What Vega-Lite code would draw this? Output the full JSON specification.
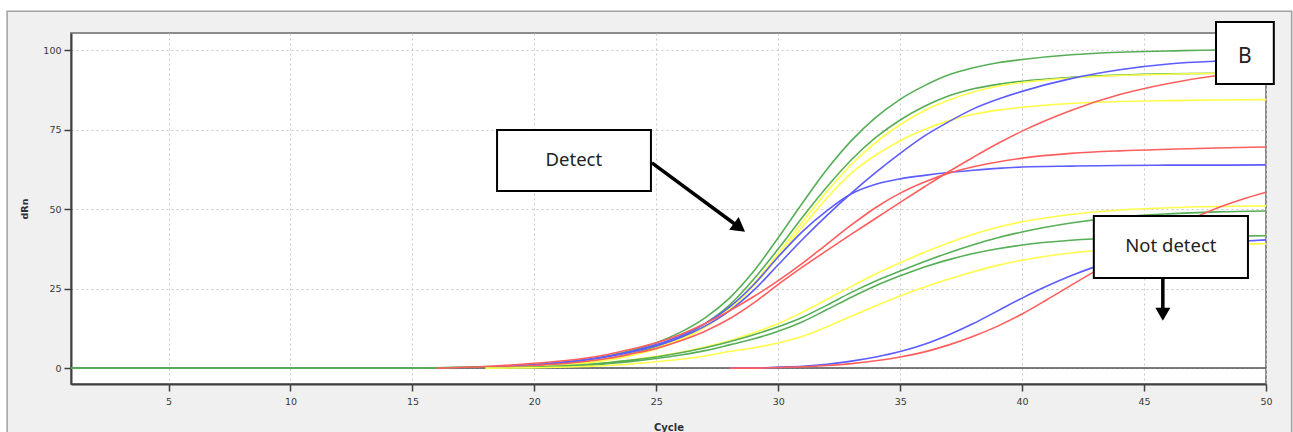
{
  "$schema": "https://vega.github.io/schema/vega-lite/v6.json",
  "width": 1195,
  "height": 351,
  "autosize": {"type": "none"},
  "padding": {"left": 71, "top": 33, "right": 27, "bottom": 48},
  "background": "#f0f0f0",
  "config": {
    "view": {"fill": "white", "stroke": "#8c8c8c", "strokeWidth": 2},
    "axis": {
      "labelFont": "DejaVu Sans", "labelFontSize": 9.5, "labelColor": "#383838", "labelFlush": false,
      "titleFont": "DejaVu Sans", "titleFontSize": 10, "titleFontWeight": "bold", "titleColor": "#303030",
      "domainColor": "#404040", "domainWidth": 2, "tickColor": "#404040", "tickWidth": 1.5,
      "gridColor": "#c8c8c8", "gridDash": [2, 3], "gridWidth": 1
    }
  },
  "datasets": {
    "curves": [
      {"sample":"G1","dye":"green","cycle":1,"dRn":0},{"sample":"G1","dye":"green","cycle":15,"dRn":0},{"sample":"G1","dye":"green","cycle":18,"dRn":0.5},{"sample":"G1","dye":"green","cycle":20,"dRn":1},{"sample":"G1","dye":"green","cycle":22,"dRn":2.5},{"sample":"G1","dye":"green","cycle":23,"dRn":3.8},{"sample":"G1","dye":"green","cycle":24,"dRn":5.6},{"sample":"G1","dye":"green","cycle":25,"dRn":8},{"sample":"G1","dye":"green","cycle":26,"dRn":11.3},{"sample":"G1","dye":"green","cycle":27,"dRn":15.8},{"sample":"G1","dye":"green","cycle":28,"dRn":22},{"sample":"G1","dye":"green","cycle":29,"dRn":30.5},{"sample":"G1","dye":"green","cycle":30,"dRn":41},{"sample":"G1","dye":"green","cycle":31,"dRn":52},{"sample":"G1","dye":"green","cycle":32,"dRn":62.5},{"sample":"G1","dye":"green","cycle":33,"dRn":71.5},{"sample":"G1","dye":"green","cycle":34,"dRn":78.8},{"sample":"G1","dye":"green","cycle":35,"dRn":84.5},{"sample":"G1","dye":"green","cycle":36,"dRn":88.8},{"sample":"G1","dye":"green","cycle":37,"dRn":92.2},{"sample":"G1","dye":"green","cycle":38,"dRn":94.4},{"sample":"G1","dye":"green","cycle":39,"dRn":96},{"sample":"G1","dye":"green","cycle":40,"dRn":97},{"sample":"G1","dye":"green","cycle":42,"dRn":98.5},{"sample":"G1","dye":"green","cycle":44,"dRn":99.3},{"sample":"G1","dye":"green","cycle":46,"dRn":99.7},{"sample":"G1","dye":"green","cycle":48,"dRn":100},{"sample":"G1","dye":"green","cycle":50,"dRn":100},

      {"sample":"G2","dye":"green","cycle":18,"dRn":0},{"sample":"G2","dye":"green","cycle":20,"dRn":0.8},{"sample":"G2","dye":"green","cycle":22,"dRn":2},{"sample":"G2","dye":"green","cycle":23,"dRn":3},{"sample":"G2","dye":"green","cycle":24,"dRn":4.6},{"sample":"G2","dye":"green","cycle":25,"dRn":6.8},{"sample":"G2","dye":"green","cycle":26,"dRn":9.8},{"sample":"G2","dye":"green","cycle":27,"dRn":14},{"sample":"G2","dye":"green","cycle":28,"dRn":19.8},{"sample":"G2","dye":"green","cycle":29,"dRn":28},{"sample":"G2","dye":"green","cycle":30,"dRn":37.5},{"sample":"G2","dye":"green","cycle":31,"dRn":47.5},{"sample":"G2","dye":"green","cycle":32,"dRn":57},{"sample":"G2","dye":"green","cycle":33,"dRn":65.5},{"sample":"G2","dye":"green","cycle":34,"dRn":72.5},{"sample":"G2","dye":"green","cycle":35,"dRn":78},{"sample":"G2","dye":"green","cycle":36,"dRn":82.3},{"sample":"G2","dye":"green","cycle":37,"dRn":85.6},{"sample":"G2","dye":"green","cycle":38,"dRn":87.8},{"sample":"G2","dye":"green","cycle":39,"dRn":89.2},{"sample":"G2","dye":"green","cycle":40,"dRn":90.2},{"sample":"G2","dye":"green","cycle":42,"dRn":91.4},{"sample":"G2","dye":"green","cycle":44,"dRn":92.1},{"sample":"G2","dye":"green","cycle":46,"dRn":92.5},{"sample":"G2","dye":"green","cycle":48,"dRn":92.7},{"sample":"G2","dye":"green","cycle":50,"dRn":92.8},

      {"sample":"Y1","dye":"yellow","cycle":18,"dRn":0},{"sample":"Y1","dye":"yellow","cycle":20,"dRn":0.5},{"sample":"Y1","dye":"yellow","cycle":22,"dRn":1.6},{"sample":"Y1","dye":"yellow","cycle":23,"dRn":2.7},{"sample":"Y1","dye":"yellow","cycle":24,"dRn":4.2},{"sample":"Y1","dye":"yellow","cycle":25,"dRn":6.3},{"sample":"Y1","dye":"yellow","cycle":26,"dRn":9.2},{"sample":"Y1","dye":"yellow","cycle":27,"dRn":13.2},{"sample":"Y1","dye":"yellow","cycle":28,"dRn":18.8},{"sample":"Y1","dye":"yellow","cycle":29,"dRn":26.6},{"sample":"Y1","dye":"yellow","cycle":30,"dRn":36},{"sample":"Y1","dye":"yellow","cycle":31,"dRn":46},{"sample":"Y1","dye":"yellow","cycle":32,"dRn":55.5},{"sample":"Y1","dye":"yellow","cycle":33,"dRn":64},{"sample":"Y1","dye":"yellow","cycle":34,"dRn":71},{"sample":"Y1","dye":"yellow","cycle":35,"dRn":76.5},{"sample":"Y1","dye":"yellow","cycle":36,"dRn":81},{"sample":"Y1","dye":"yellow","cycle":37,"dRn":84.3},{"sample":"Y1","dye":"yellow","cycle":38,"dRn":86.8},{"sample":"Y1","dye":"yellow","cycle":39,"dRn":88.6},{"sample":"Y1","dye":"yellow","cycle":40,"dRn":89.8},{"sample":"Y1","dye":"yellow","cycle":42,"dRn":91.2},{"sample":"Y1","dye":"yellow","cycle":44,"dRn":92},{"sample":"Y1","dye":"yellow","cycle":46,"dRn":92.4},{"sample":"Y1","dye":"yellow","cycle":48,"dRn":92.7},{"sample":"Y1","dye":"yellow","cycle":50,"dRn":92.8},

      {"sample":"Y2","dye":"yellow","cycle":18,"dRn":0},{"sample":"Y2","dye":"yellow","cycle":20,"dRn":0.5},{"sample":"Y2","dye":"yellow","cycle":22,"dRn":1.5},{"sample":"Y2","dye":"yellow","cycle":23,"dRn":2.5},{"sample":"Y2","dye":"yellow","cycle":24,"dRn":4},{"sample":"Y2","dye":"yellow","cycle":25,"dRn":6},{"sample":"Y2","dye":"yellow","cycle":26,"dRn":8.8},{"sample":"Y2","dye":"yellow","cycle":27,"dRn":12.8},{"sample":"Y2","dye":"yellow","cycle":28,"dRn":18.3},{"sample":"Y2","dye":"yellow","cycle":29,"dRn":26},{"sample":"Y2","dye":"yellow","cycle":30,"dRn":35},{"sample":"Y2","dye":"yellow","cycle":31,"dRn":44.5},{"sample":"Y2","dye":"yellow","cycle":32,"dRn":53.5},{"sample":"Y2","dye":"yellow","cycle":33,"dRn":61.3},{"sample":"Y2","dye":"yellow","cycle":34,"dRn":67},{"sample":"Y2","dye":"yellow","cycle":35,"dRn":71.5},{"sample":"Y2","dye":"yellow","cycle":36,"dRn":75},{"sample":"Y2","dye":"yellow","cycle":37,"dRn":77.8},{"sample":"Y2","dye":"yellow","cycle":38,"dRn":79.8},{"sample":"Y2","dye":"yellow","cycle":39,"dRn":81.1},{"sample":"Y2","dye":"yellow","cycle":40,"dRn":82},{"sample":"Y2","dye":"yellow","cycle":42,"dRn":83.2},{"sample":"Y2","dye":"yellow","cycle":44,"dRn":83.8},{"sample":"Y2","dye":"yellow","cycle":46,"dRn":84.1},{"sample":"Y2","dye":"yellow","cycle":48,"dRn":84.3},{"sample":"Y2","dye":"yellow","cycle":50,"dRn":84.4},

      {"sample":"B1","dye":"blue","cycle":18,"dRn":0},{"sample":"B1","dye":"blue","cycle":20,"dRn":1},{"sample":"B1","dye":"blue","cycle":22,"dRn":2.5},{"sample":"B1","dye":"blue","cycle":23,"dRn":3.6},{"sample":"B1","dye":"blue","cycle":24,"dRn":5.1},{"sample":"B1","dye":"blue","cycle":25,"dRn":7},{"sample":"B1","dye":"blue","cycle":26,"dRn":9.6},{"sample":"B1","dye":"blue","cycle":27,"dRn":13.2},{"sample":"B1","dye":"blue","cycle":28,"dRn":18},{"sample":"B1","dye":"blue","cycle":29,"dRn":24.5},{"sample":"B1","dye":"blue","cycle":30,"dRn":32.5},{"sample":"B1","dye":"blue","cycle":31,"dRn":40.5},{"sample":"B1","dye":"blue","cycle":32,"dRn":48},{"sample":"B1","dye":"blue","cycle":33,"dRn":55},{"sample":"B1","dye":"blue","cycle":34,"dRn":61.5},{"sample":"B1","dye":"blue","cycle":35,"dRn":67.5},{"sample":"B1","dye":"blue","cycle":36,"dRn":73},{"sample":"B1","dye":"blue","cycle":37,"dRn":77.5},{"sample":"B1","dye":"blue","cycle":38,"dRn":81.5},{"sample":"B1","dye":"blue","cycle":39,"dRn":84.5},{"sample":"B1","dye":"blue","cycle":40,"dRn":87},{"sample":"B1","dye":"blue","cycle":42,"dRn":91},{"sample":"B1","dye":"blue","cycle":44,"dRn":93.8},{"sample":"B1","dye":"blue","cycle":46,"dRn":95.6},{"sample":"B1","dye":"blue","cycle":48,"dRn":96.5},{"sample":"B1","dye":"blue","cycle":50,"dRn":97},

      {"sample":"B2","dye":"blue","cycle":18,"dRn":0},{"sample":"B2","dye":"blue","cycle":20,"dRn":1},{"sample":"B2","dye":"blue","cycle":22,"dRn":2.5},{"sample":"B2","dye":"blue","cycle":23,"dRn":3.7},{"sample":"B2","dye":"blue","cycle":24,"dRn":5.3},{"sample":"B2","dye":"blue","cycle":25,"dRn":7.4},{"sample":"B2","dye":"blue","cycle":26,"dRn":10.2},{"sample":"B2","dye":"blue","cycle":27,"dRn":14},{"sample":"B2","dye":"blue","cycle":28,"dRn":19.2},{"sample":"B2","dye":"blue","cycle":29,"dRn":26.3},{"sample":"B2","dye":"blue","cycle":30,"dRn":35},{"sample":"B2","dye":"blue","cycle":31,"dRn":43},{"sample":"B2","dye":"blue","cycle":32,"dRn":49.5},{"sample":"B2","dye":"blue","cycle":33,"dRn":54.8},{"sample":"B2","dye":"blue","cycle":34,"dRn":57.8},{"sample":"B2","dye":"blue","cycle":35,"dRn":59.5},{"sample":"B2","dye":"blue","cycle":36,"dRn":60.6},{"sample":"B2","dye":"blue","cycle":37,"dRn":61.5},{"sample":"B2","dye":"blue","cycle":38,"dRn":62.2},{"sample":"B2","dye":"blue","cycle":39,"dRn":62.8},{"sample":"B2","dye":"blue","cycle":40,"dRn":63.2},{"sample":"B2","dye":"blue","cycle":42,"dRn":63.5},{"sample":"B2","dye":"blue","cycle":44,"dRn":63.7},{"sample":"B2","dye":"blue","cycle":46,"dRn":63.8},{"sample":"B2","dye":"blue","cycle":48,"dRn":63.8},{"sample":"B2","dye":"blue","cycle":50,"dRn":63.9},

      {"sample":"R2","dye":"red","cycle":16,"dRn":0},{"sample":"R2","dye":"red","cycle":18,"dRn":0.5},{"sample":"R2","dye":"red","cycle":20,"dRn":1.5},{"sample":"R2","dye":"red","cycle":22,"dRn":3},{"sample":"R2","dye":"red","cycle":23,"dRn":4.3},{"sample":"R2","dye":"red","cycle":24,"dRn":6},{"sample":"R2","dye":"red","cycle":25,"dRn":8},{"sample":"R2","dye":"red","cycle":26,"dRn":10.6},{"sample":"R2","dye":"red","cycle":27,"dRn":14},{"sample":"R2","dye":"red","cycle":28,"dRn":18},{"sample":"R2","dye":"red","cycle":29,"dRn":22.5},{"sample":"R2","dye":"red","cycle":30,"dRn":27.5},{"sample":"R2","dye":"red","cycle":31,"dRn":33},{"sample":"R2","dye":"red","cycle":32,"dRn":39},{"sample":"R2","dye":"red","cycle":33,"dRn":45},{"sample":"R2","dye":"red","cycle":34,"dRn":50.5},{"sample":"R2","dye":"red","cycle":35,"dRn":55},{"sample":"R2","dye":"red","cycle":36,"dRn":58.5},{"sample":"R2","dye":"red","cycle":37,"dRn":61.3},{"sample":"R2","dye":"red","cycle":38,"dRn":63.3},{"sample":"R2","dye":"red","cycle":39,"dRn":64.8},{"sample":"R2","dye":"red","cycle":40,"dRn":66},{"sample":"R2","dye":"red","cycle":42,"dRn":67.5},{"sample":"R2","dye":"red","cycle":44,"dRn":68.3},{"sample":"R2","dye":"red","cycle":46,"dRn":68.8},{"sample":"R2","dye":"red","cycle":48,"dRn":69.2},{"sample":"R2","dye":"red","cycle":50,"dRn":69.5},

      {"sample":"R1","dye":"red","cycle":18,"dRn":0},{"sample":"R1","dye":"red","cycle":20,"dRn":0.8},{"sample":"R1","dye":"red","cycle":22,"dRn":2},{"sample":"R1","dye":"red","cycle":23,"dRn":3},{"sample":"R1","dye":"red","cycle":24,"dRn":4.5},{"sample":"R1","dye":"red","cycle":25,"dRn":6.2},{"sample":"R1","dye":"red","cycle":26,"dRn":8.6},{"sample":"R1","dye":"red","cycle":27,"dRn":11.6},{"sample":"R1","dye":"red","cycle":28,"dRn":15.5},{"sample":"R1","dye":"red","cycle":29,"dRn":20.5},{"sample":"R1","dye":"red","cycle":30,"dRn":26.3},{"sample":"R1","dye":"red","cycle":31,"dRn":31.8},{"sample":"R1","dye":"red","cycle":32,"dRn":37},{"sample":"R1","dye":"red","cycle":33,"dRn":42.1},{"sample":"R1","dye":"red","cycle":34,"dRn":47.1},{"sample":"R1","dye":"red","cycle":35,"dRn":52.1},{"sample":"R1","dye":"red","cycle":36,"dRn":57},{"sample":"R1","dye":"red","cycle":37,"dRn":61.8},{"sample":"R1","dye":"red","cycle":38,"dRn":66.3},{"sample":"R1","dye":"red","cycle":39,"dRn":70.6},{"sample":"R1","dye":"red","cycle":40,"dRn":74.5},{"sample":"R1","dye":"red","cycle":42,"dRn":81},{"sample":"R1","dye":"red","cycle":44,"dRn":86},{"sample":"R1","dye":"red","cycle":46,"dRn":89.5},{"sample":"R1","dye":"red","cycle":48,"dRn":92},{"sample":"R1","dye":"red","cycle":50,"dRn":93.5},

      {"sample":"Y3","dye":"yellow","cycle":18,"dRn":0},{"sample":"Y3","dye":"yellow","cycle":20,"dRn":0.3},{"sample":"Y3","dye":"yellow","cycle":22,"dRn":1},{"sample":"Y3","dye":"yellow","cycle":23,"dRn":1.7},{"sample":"Y3","dye":"yellow","cycle":24,"dRn":2.6},{"sample":"Y3","dye":"yellow","cycle":25,"dRn":3.7},{"sample":"Y3","dye":"yellow","cycle":26,"dRn":5},{"sample":"Y3","dye":"yellow","cycle":27,"dRn":6.6},{"sample":"Y3","dye":"yellow","cycle":28,"dRn":8.6},{"sample":"Y3","dye":"yellow","cycle":29,"dRn":11.1},{"sample":"Y3","dye":"yellow","cycle":30,"dRn":14},{"sample":"Y3","dye":"yellow","cycle":31,"dRn":17.6},{"sample":"Y3","dye":"yellow","cycle":32,"dRn":21.6},{"sample":"Y3","dye":"yellow","cycle":33,"dRn":25.7},{"sample":"Y3","dye":"yellow","cycle":34,"dRn":29.6},{"sample":"Y3","dye":"yellow","cycle":35,"dRn":33.1},{"sample":"Y3","dye":"yellow","cycle":36,"dRn":36.4},{"sample":"Y3","dye":"yellow","cycle":37,"dRn":39.4},{"sample":"Y3","dye":"yellow","cycle":38,"dRn":42.1},{"sample":"Y3","dye":"yellow","cycle":39,"dRn":44.3},{"sample":"Y3","dye":"yellow","cycle":40,"dRn":46},{"sample":"Y3","dye":"yellow","cycle":42,"dRn":48.3},{"sample":"Y3","dye":"yellow","cycle":44,"dRn":49.7},{"sample":"Y3","dye":"yellow","cycle":46,"dRn":50.4},{"sample":"Y3","dye":"yellow","cycle":48,"dRn":50.8},{"sample":"Y3","dye":"yellow","cycle":50,"dRn":51},

      {"sample":"G3","dye":"green","cycle":18,"dRn":0},{"sample":"G3","dye":"green","cycle":20,"dRn":0.3},{"sample":"G3","dye":"green","cycle":22,"dRn":1},{"sample":"G3","dye":"green","cycle":23,"dRn":1.7},{"sample":"G3","dye":"green","cycle":24,"dRn":2.5},{"sample":"G3","dye":"green","cycle":25,"dRn":3.5},{"sample":"G3","dye":"green","cycle":26,"dRn":4.8},{"sample":"G3","dye":"green","cycle":27,"dRn":6.4},{"sample":"G3","dye":"green","cycle":28,"dRn":8.3},{"sample":"G3","dye":"green","cycle":29,"dRn":10.5},{"sample":"G3","dye":"green","cycle":30,"dRn":13},{"sample":"G3","dye":"green","cycle":31,"dRn":16},{"sample":"G3","dye":"green","cycle":32,"dRn":19.8},{"sample":"G3","dye":"green","cycle":33,"dRn":23.8},{"sample":"G3","dye":"green","cycle":34,"dRn":27.4},{"sample":"G3","dye":"green","cycle":35,"dRn":30.5},{"sample":"G3","dye":"green","cycle":36,"dRn":33.5},{"sample":"G3","dye":"green","cycle":37,"dRn":36.3},{"sample":"G3","dye":"green","cycle":38,"dRn":38.8},{"sample":"G3","dye":"green","cycle":39,"dRn":41},{"sample":"G3","dye":"green","cycle":40,"dRn":42.8},{"sample":"G3","dye":"green","cycle":42,"dRn":45.6},{"sample":"G3","dye":"green","cycle":44,"dRn":47.5},{"sample":"G3","dye":"green","cycle":46,"dRn":48.5},{"sample":"G3","dye":"green","cycle":48,"dRn":49.1},{"sample":"G3","dye":"green","cycle":50,"dRn":49.4},

      {"sample":"G4","dye":"green","cycle":18,"dRn":0},{"sample":"G4","dye":"green","cycle":20,"dRn":0.2},{"sample":"G4","dye":"green","cycle":22,"dRn":0.8},{"sample":"G4","dye":"green","cycle":23,"dRn":1.4},{"sample":"G4","dye":"green","cycle":24,"dRn":2.1},{"sample":"G4","dye":"green","cycle":25,"dRn":3},{"sample":"G4","dye":"green","cycle":26,"dRn":4.1},{"sample":"G4","dye":"green","cycle":27,"dRn":5.5},{"sample":"G4","dye":"green","cycle":28,"dRn":7.3},{"sample":"G4","dye":"green","cycle":29,"dRn":9.2},{"sample":"G4","dye":"green","cycle":30,"dRn":11.6},{"sample":"G4","dye":"green","cycle":31,"dRn":14.6},{"sample":"G4","dye":"green","cycle":32,"dRn":18.4},{"sample":"G4","dye":"green","cycle":33,"dRn":22.3},{"sample":"G4","dye":"green","cycle":34,"dRn":25.9},{"sample":"G4","dye":"green","cycle":35,"dRn":29},{"sample":"G4","dye":"green","cycle":36,"dRn":31.8},{"sample":"G4","dye":"green","cycle":37,"dRn":34.1},{"sample":"G4","dye":"green","cycle":38,"dRn":36},{"sample":"G4","dye":"green","cycle":39,"dRn":37.5},{"sample":"G4","dye":"green","cycle":40,"dRn":38.7},{"sample":"G4","dye":"green","cycle":42,"dRn":40.2},{"sample":"G4","dye":"green","cycle":44,"dRn":41},{"sample":"G4","dye":"green","cycle":46,"dRn":41.3},{"sample":"G4","dye":"green","cycle":48,"dRn":41.5},{"sample":"G4","dye":"green","cycle":50,"dRn":41.6},

      {"sample":"Y4","dye":"yellow","cycle":18,"dRn":0},{"sample":"Y4","dye":"yellow","cycle":20,"dRn":0.1},{"sample":"Y4","dye":"yellow","cycle":22,"dRn":0.5},{"sample":"Y4","dye":"yellow","cycle":23,"dRn":0.8},{"sample":"Y4","dye":"yellow","cycle":24,"dRn":1.3},{"sample":"Y4","dye":"yellow","cycle":25,"dRn":2},{"sample":"Y4","dye":"yellow","cycle":26,"dRn":2.8},{"sample":"Y4","dye":"yellow","cycle":27,"dRn":3.8},{"sample":"Y4","dye":"yellow","cycle":28,"dRn":5.2},{"sample":"Y4","dye":"yellow","cycle":29,"dRn":6.4},{"sample":"Y4","dye":"yellow","cycle":30,"dRn":7.9},{"sample":"Y4","dye":"yellow","cycle":31,"dRn":10},{"sample":"Y4","dye":"yellow","cycle":32,"dRn":13},{"sample":"Y4","dye":"yellow","cycle":33,"dRn":16.3},{"sample":"Y4","dye":"yellow","cycle":34,"dRn":19.6},{"sample":"Y4","dye":"yellow","cycle":35,"dRn":22.7},{"sample":"Y4","dye":"yellow","cycle":36,"dRn":25.5},{"sample":"Y4","dye":"yellow","cycle":37,"dRn":28},{"sample":"Y4","dye":"yellow","cycle":38,"dRn":30.3},{"sample":"Y4","dye":"yellow","cycle":39,"dRn":32.3},{"sample":"Y4","dye":"yellow","cycle":40,"dRn":33.9},{"sample":"Y4","dye":"yellow","cycle":42,"dRn":36.2},{"sample":"Y4","dye":"yellow","cycle":44,"dRn":37.5},{"sample":"Y4","dye":"yellow","cycle":46,"dRn":38.3},{"sample":"Y4","dye":"yellow","cycle":48,"dRn":38.8},{"sample":"Y4","dye":"yellow","cycle":50,"dRn":39.1},

      {"sample":"B3","dye":"blue","cycle":28,"dRn":0},{"sample":"B3","dye":"blue","cycle":29,"dRn":0},{"sample":"B3","dye":"blue","cycle":30,"dRn":0.3},{"sample":"B3","dye":"blue","cycle":31,"dRn":0.6},{"sample":"B3","dye":"blue","cycle":32,"dRn":1.2},{"sample":"B3","dye":"blue","cycle":33,"dRn":2.2},{"sample":"B3","dye":"blue","cycle":34,"dRn":3.5},{"sample":"B3","dye":"blue","cycle":35,"dRn":5.2},{"sample":"B3","dye":"blue","cycle":36,"dRn":7.5},{"sample":"B3","dye":"blue","cycle":37,"dRn":10.5},{"sample":"B3","dye":"blue","cycle":38,"dRn":14},{"sample":"B3","dye":"blue","cycle":39,"dRn":18},{"sample":"B3","dye":"blue","cycle":40,"dRn":22},{"sample":"B3","dye":"blue","cycle":41,"dRn":25.7},{"sample":"B3","dye":"blue","cycle":42,"dRn":29},{"sample":"B3","dye":"blue","cycle":43,"dRn":31.9},{"sample":"B3","dye":"blue","cycle":44,"dRn":34.3},{"sample":"B3","dye":"blue","cycle":45,"dRn":36.2},{"sample":"B3","dye":"blue","cycle":46,"dRn":37.6},{"sample":"B3","dye":"blue","cycle":47,"dRn":38.7},{"sample":"B3","dye":"blue","cycle":48,"dRn":39.4},{"sample":"B3","dye":"blue","cycle":49,"dRn":39.9},{"sample":"B3","dye":"blue","cycle":50,"dRn":40.3},

      {"sample":"R3","dye":"red","cycle":28,"dRn":0},{"sample":"R3","dye":"red","cycle":29,"dRn":0},{"sample":"R3","dye":"red","cycle":30,"dRn":0.2},{"sample":"R3","dye":"red","cycle":31,"dRn":0.4},{"sample":"R3","dye":"red","cycle":32,"dRn":0.8},{"sample":"R3","dye":"red","cycle":33,"dRn":1.4},{"sample":"R3","dye":"red","cycle":34,"dRn":2.3},{"sample":"R3","dye":"red","cycle":35,"dRn":3.5},{"sample":"R3","dye":"red","cycle":36,"dRn":5.1},{"sample":"R3","dye":"red","cycle":37,"dRn":7.3},{"sample":"R3","dye":"red","cycle":38,"dRn":10},{"sample":"R3","dye":"red","cycle":39,"dRn":13.2},{"sample":"R3","dye":"red","cycle":40,"dRn":17},{"sample":"R3","dye":"red","cycle":41,"dRn":21.4},{"sample":"R3","dye":"red","cycle":42,"dRn":26},{"sample":"R3","dye":"red","cycle":43,"dRn":30.5},{"sample":"R3","dye":"red","cycle":44,"dRn":35},{"sample":"R3","dye":"red","cycle":45,"dRn":39.2},{"sample":"R3","dye":"red","cycle":46,"dRn":43.2},{"sample":"R3","dye":"red","cycle":47,"dRn":47},{"sample":"R3","dye":"red","cycle":48,"dRn":50.3},{"sample":"R3","dye":"red","cycle":49,"dRn":53},{"sample":"R3","dye":"red","cycle":50,"dRn":55.3}
    ],
    "boxes": [
      {"label": "Detect", "cycle": 18.47, "cycle2": 24.78, "dRn": 74.84, "dRn2": 55.66},
      {"label": "Not detect", "cycle": 42.94, "cycle2": 49.26, "dRn": 47.8, "dRn2": 28.3},
      {"label": "B", "cycle": 47.95, "cycle2": 50.32, "dRn": 108.8, "dRn2": 89.3}
    ],
    "labels": [
      {"label": "Detect", "cycle": 21.62, "dRn": 65.4},
      {"label": "Not detect", "cycle": 46.1, "dRn": 38.4},
      {"label": "B", "cycle": 49.13, "dRn": 97.8}
    ]
  },
  "encoding": {
    "x": {"field": "cycle", "type": "quantitative", "title": "Cycle",
          "scale": {"domain": [1, 50], "nice": false, "zero": false},
          "axis": {"values": [5, 10, 15, 20, 25, 30, 35, 40, 45, 50], "tickSize": 7, "labelPadding": 5, "grid": true,
                   "titleBaseline": "top", "titleY": 38}},
    "y": {"field": "dRn", "type": "quantitative", "title": "dRn",
          "scale": {"domain": [-5, 105.35], "nice": false, "zero": false},
          "axis": {"values": [0, 25, 50, 75, 100], "tickSize": 7, "labelPadding": 3, "grid": true,
                   "titleX": -44, "titleY": 175.5, "titleBaseline": "alphabetic", "titleFontSize": 9.5}}
  },
  "layer": [
    {
      "data": {"values": [{"cycle": -1.85, "cycle2": 51.33, "dRn": 114.0, "dRn2": -40}]},
      "mark": {"type": "rect", "fill": null, "stroke": "white", "strokeWidth": 11, "clip": false},
      "encoding": {"x2": {"field": "cycle2"}, "y2": {"field": "dRn2"}}
    },
    {
      "data": {"values": [{"cycle": -1.62, "cycle2": 51.05, "dRn": 112.2, "dRn2": -40}]},
      "mark": {"type": "rect", "fill": null, "stroke": "#a0a0a0", "strokeWidth": 1.5, "clip": false},
      "encoding": {"x2": {"field": "cycle2"}, "y2": {"field": "dRn2"}}
    },
    {
      "data": {"values": [{"cycle": 1, "cycle2": 50, "dRn": 0}]},
      "mark": {"type": "rule", "color": "#505050", "strokeWidth": 1.5},
      "encoding": {"x2": {"field": "cycle2"}}
    },
    {
      "data": {"name": "curves"},
      "mark": {"type": "line", "strokeWidth": 1.6, "interpolate": "monotone", "clip": true},
      "encoding": {
        "color": {"field": "dye", "type": "nominal", "legend": null,
                  "scale": {"domain": ["green", "yellow", "blue", "red"], "range": ["#56ae56", "#ffff4a", "#5c5cff", "#ff5e5e"]}},
        "detail": {"field": "sample"}
      }
    },
    {
      "data": {"name": "boxes"},
      "mark": {"type": "rect", "fill": "white", "stroke": "black", "strokeWidth": 2, "clip": false},
      "encoding": {"x2": {"field": "cycle2"}, "y2": {"field": "dRn2"}}
    },
    {
      "data": {"name": "labels"},
      "transform": [{"filter": "datum.label != 'B'"}],
      "mark": {"type": "text", "font": "Noto Sans", "fontSize": 18.5, "color": "#222222", "align": "center", "baseline": "middle", "clip": false},
      "encoding": {"text": {"field": "label"}}
    },
    {
      "data": {"name": "labels"},
      "transform": [{"filter": "datum.label == 'B'"}],
      "mark": {"type": "text", "font": "Noto Sans", "fontSize": 21, "color": "#222222", "align": "center", "baseline": "middle", "clip": false},
      "encoding": {"text": {"field": "label"}}
    },
    {
      "data": {"values": [
        {"arrow": "Detect", "cycle": 24.82, "dRn": 64.5, "cycle2": 28.41, "dRn2": 44.2},
        {"arrow": "Not detect", "cycle": 45.77, "dRn": 28.3, "cycle2": 45.77, "dRn2": 17.5}
      ]},
      "mark": {"type": "rule", "color": "black", "strokeWidth": 3.5, "clip": false},
      "encoding": {"x2": {"field": "cycle2"}, "y2": {"field": "dRn2"}}
    },
    {
      "data": {"values": [{"arrow": "Detect", "cycle": 28.41, "dRn": 44.2}]},
      "mark": {"type": "point", "shape": "triangle-right", "angle": 36.6, "size": 256, "filled": true, "color": "black", "opacity": 1, "clip": false}
    },
    {
      "data": {"values": [{"arrow": "Not detect", "cycle": 45.77, "dRn": 16.9}]},
      "mark": {"type": "point", "shape": "triangle-down", "size": 225, "filled": true, "color": "black", "opacity": 1, "clip": false}
    }
  ]
}
